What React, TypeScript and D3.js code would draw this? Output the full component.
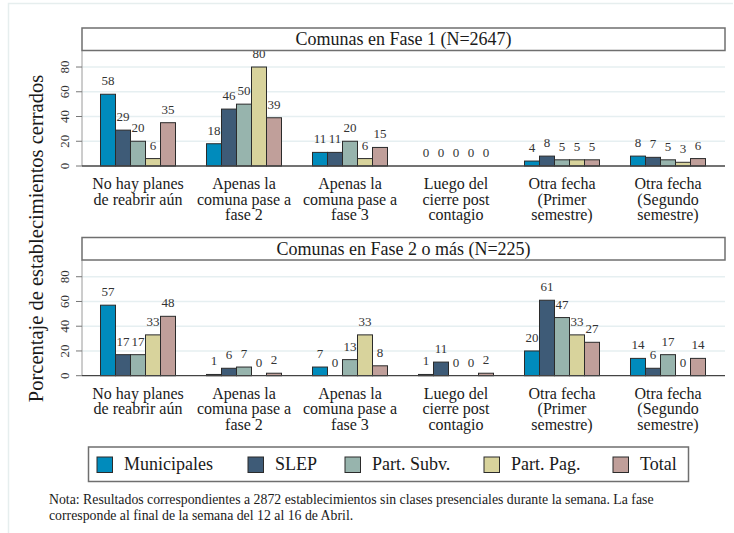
import React from "react";
import * as d3 from "d3";

const categories: string[][] = [
  ["No hay planes", "de reabrir aún"],
  ["Apenas la", "comuna pase a", "fase 2"],
  ["Apenas la", "comuna pase a", "fase 3"],
  ["Luego del", "cierre post", "contagio"],
  ["Otra fecha", "(Primer", "semestre)"],
  ["Otra fecha", "(Segundo", "semestre)"],
];

const seriesNames = ["Municipales", "SLEP", "Part. Subv.", "Part. Pag.", "Total"];
const seriesColors = ["#008bbc", "#3e5b77", "#97b4ad", "#d8d39c", "#c09f9a"];

// rows = categories, columns = series
const fase1Values = [
  [58, 29, 20, 6, 35],
  [18, 46, 50, 80, 39],
  [11, 11, 20, 6, 15],
  [0, 0, 0, 0, 0],
  [4, 8, 5, 5, 5],
  [8, 7, 5, 3, 6],
];
const fase2Values = [
  [57, 17, 17, 33, 48],
  [1, 6, 7, 0, 2],
  [7, 0, 13, 33, 8],
  [1, 11, 0, 0, 2],
  [20, 61, 47, 33, 27],
  [14, 6, 17, 0, 14],
];

const yTicks = [0, 20, 40, 60, 80];
const panelTitles = ["Comunas en Fase 1 (N=2647)", "Comunas en Fase 2 o más (N=225)"];
const yTitle = "Porcentaje de establecimientos cerrados";
const noteLines = [
  "Nota: Resultados correspondientes a 2872 establecimientos sin clases presenciales durante la semana. La fase",
  "corresponde al final de la semana del 12 al 16 de Abril.",
];

const W = 734;
const H = 533;
const plotLeft = 82;
const plotRight = 725;

const ts = (size: number) => ({ fontFamily: "Liberation Serif", fontSize: size + "px" });

const panels = [
  { title: panelTitles[0], values: fase1Values, titleTop: 28, titleBottom: 50.5, baseline: 166 },
  { title: panelTitles[1], values: fase2Values, titleTop: 237.5, titleBottom: 260, baseline: 375.7 },
];

const legendSwatchX = [97, 248, 345, 484, 613];

function Panel({ p }: { p: typeof panels[0] }) {
  const x0 = d3.scaleBand<number>().domain(d3.range(categories.length)).range([85, 721]);
  const x1 = d3
    .scaleBand<number>()
    .domain(d3.range(seriesNames.length))
    .range([0, x0.bandwidth()])
    .paddingOuter(1.0333);
  const y = d3.scaleLinear().domain([0, 93.6]).range([p.baseline, p.baseline - 115.8]);

  return (
    <g>
      {yTicks.slice(1).map((t) => (
        <line key={"g" + t} x1={plotLeft} x2={plotRight} y1={y(t)} y2={y(t)} stroke="#e6eff1" strokeWidth={1.6} />
      ))}
      <line x1={plotLeft} x2={plotLeft} y1={p.titleBottom} y2={p.baseline} stroke="#9a9a9a" strokeWidth={1} />
      {yTicks.map((t) => (
        <g key={"t" + t}>
          <line x1={76} x2={plotLeft} y1={y(t)} y2={y(t)} stroke="#777" strokeWidth={1} />
          <text
            transform={`translate(68.5,${y(t)}) rotate(-90)`}
            textAnchor="middle"
            style={ts(13)}
            fill="#333"
          >
            {t}
          </text>
        </g>
      ))}
      {p.values.map((row, ci) =>
        row.map((v, si) => {
          const bx = (x0(ci) as number) + (x1(si) as number);
          const bw = x1.bandwidth();
          return (
            <g key={`b${ci}-${si}`}>
              {v > 0 && (
                <rect
                  x={bx}
                  y={y(v)}
                  width={bw}
                  height={y(0) - y(v)}
                  fill={seriesColors[si]}
                  stroke="#2b2b2b"
                  strokeWidth={1}
                />
              )}
              <text x={bx + bw / 2} y={y(v) - 9} textAnchor="middle" style={ts(13)} fill="#333">
                {v}
              </text>
            </g>
          );
        })
      )}
      <line x1={plotLeft} x2={plotRight} y1={p.baseline} y2={p.baseline} stroke="#444" strokeWidth={1.3} />
      {categories.map((lines, ci) => (
        <text key={"c" + ci} textAnchor="middle" style={ts(16)} fill="#1a1a1a">
          {lines.map((l, li) => (
            <tspan key={li} x={(x0(ci) as number) + x0.bandwidth() / 2} y={p.baseline + 22.8 + li * 15.8}>
              {l}
            </tspan>
          ))}
        </text>
      ))}
      <rect
        x={plotLeft}
        y={p.titleTop}
        width={plotRight - plotLeft}
        height={p.titleBottom - p.titleTop}
        fill="#fff"
        stroke="#6f6f6f"
        strokeWidth={1.5}
      />
      <text x={(plotLeft + plotRight) / 2} y={p.titleTop + 17} textAnchor="middle" style={ts(18)} fill="#1a1a1a">
        {p.title}
      </text>
    </g>
  );
}

export default function App() {
  return (
    <svg width={W} height={H} style={{ position: "absolute", left: 0, top: 0, background: "#fff" }}>
      <rect x={0} y={0} width={W} height={H} fill="#fff" />
      <path d={`M8.5,${H} V3.5 H${W - 1}`} fill="none" stroke="#e6eeee" strokeWidth={1.5} />
      {panels.map((p, i) => (
        <Panel key={i} p={p} />
      ))}
      <text transform={`translate(43,238.5) rotate(-90)`} textAnchor="middle" style={ts(20.5)} fill="#1a1a1a">
        {yTitle}
      </text>
      <rect x={88.5} y={447} width={600} height={34.5} fill="#fff" stroke="#6f6f6f" strokeWidth={1.5} />
      {seriesNames.map((s, i) => (
        <g key={s}>
          <rect
            x={legendSwatchX[i]}
            y={457}
            width={15.5}
            height={15.5}
            fill={seriesColors[i]}
            stroke="#2b2b2b"
            strokeWidth={1}
          />
          <text x={legendSwatchX[i] + 27} y={470} style={ts(18)} fill="#1a1a1a">
            {s}
          </text>
        </g>
      ))}
      {noteLines.map((l, i) => (
        <text key={i} x={49} y={503.5 + i * 16} style={ts(13.8)} fill="#1a1a1a">
          {l}
        </text>
      ))}
    </svg>
  );
}
